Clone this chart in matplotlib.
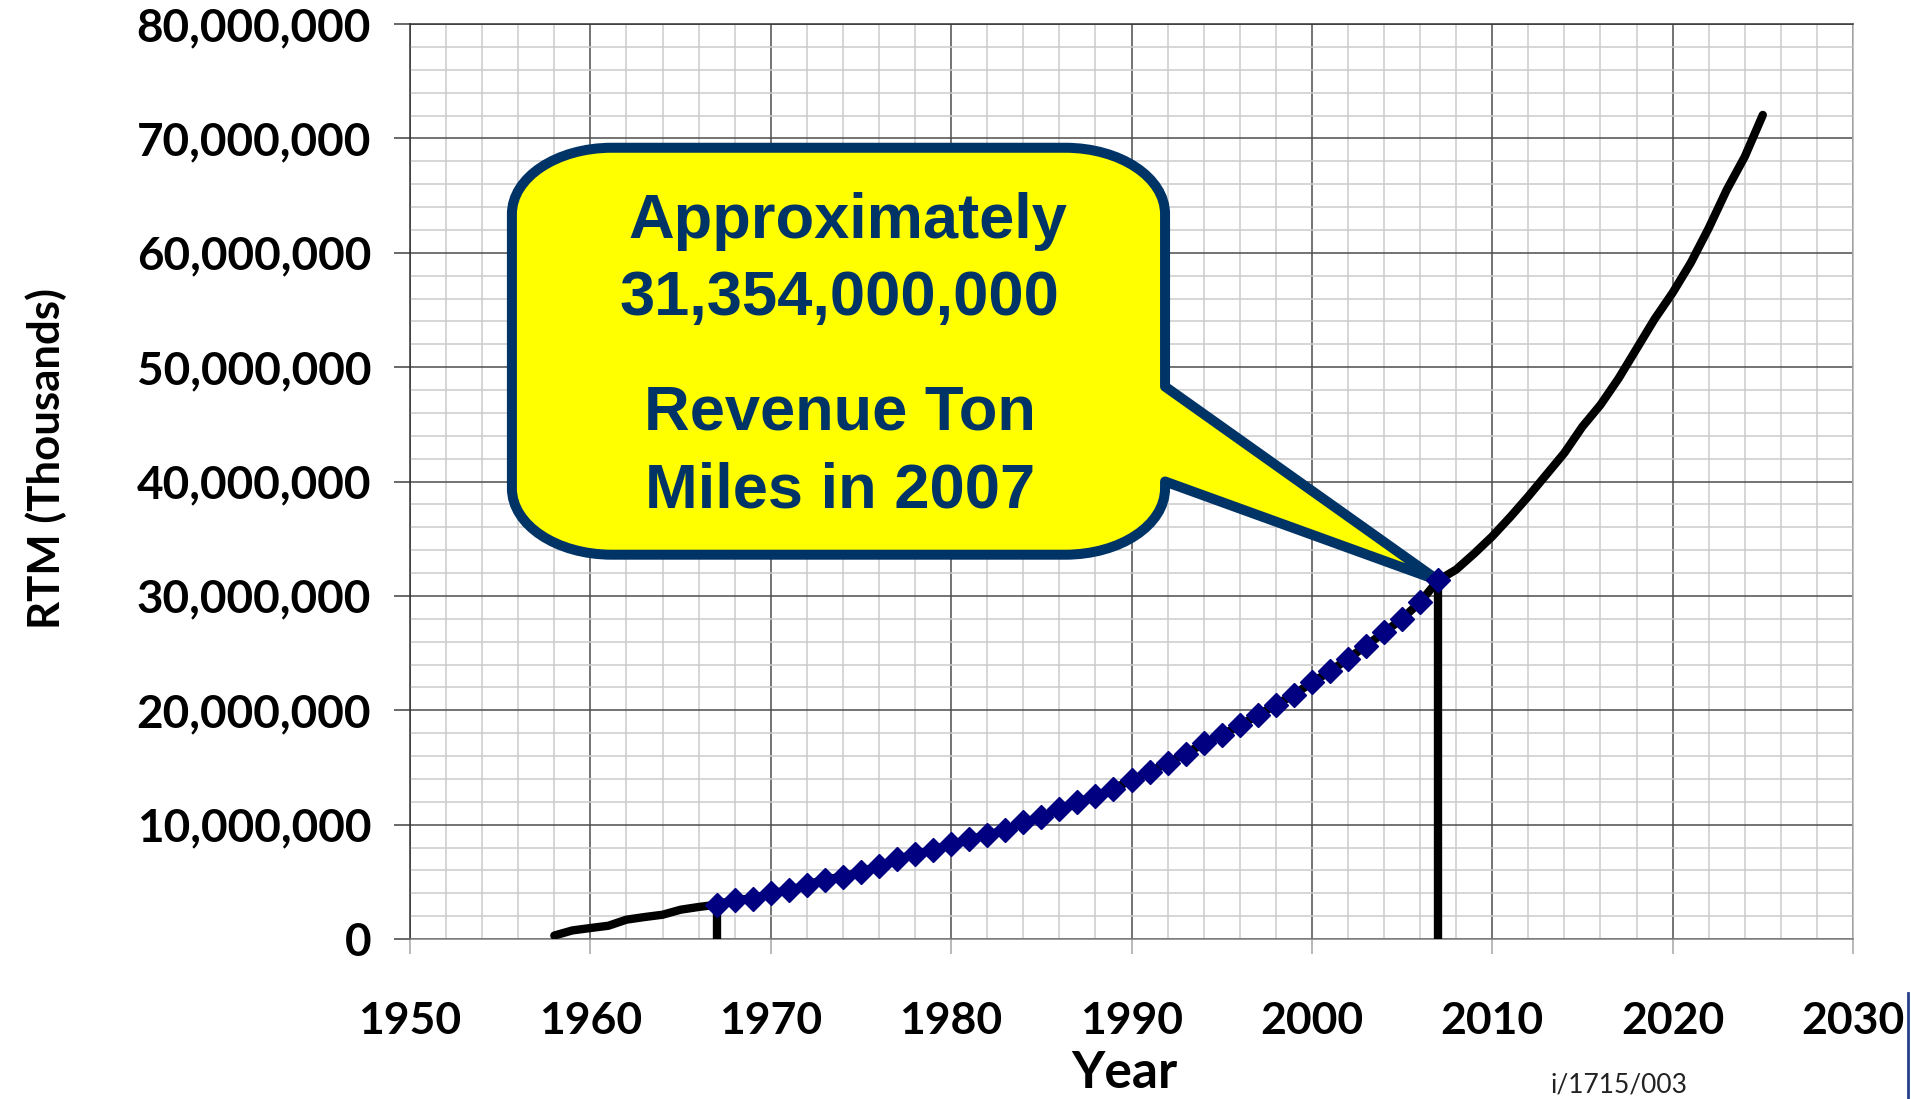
"""
plot.py - revenue ton miles (RTM) history and projection, 1958-2025.

Black line: full series; navy diamonds: recorded years 1967-2007.
Callout points at the 2007 value.
"""

import matplotlib
matplotlib.use("Agg")
import matplotlib.pyplot as plt
from matplotlib.lines import Line2D
from matplotlib.patches import PathPatch
from matplotlib.path import Path
from matplotlib.ticker import FuncFormatter, MultipleLocator

# ---------------------------------------------------------------------------
# Data (RTM in thousands)
# ---------------------------------------------------------------------------

years = list(range(1958, 2026))
rtm = [
    300_000, 750_000, 960_000, 1_160_000, 1_690_000, 1_920_000, 2_120_000,
    2_560_000, 2_800_000, 3_000_000,                                  # 1958-1967
    3_440_000, 3_520_000, 4_000_000, 4_250_000, 4_750_000, 5_200_000,
    5_450_000, 5_900_000, 6_350_000, 7_000_000,                       # 1968-1977
    7_400_000, 7_800_000, 8_300_000, 8_700_000, 9_100_000, 9_550_000,
    10_200_000, 10_660_000, 11_360_000, 12_000_000,                   # 1978-1987
    12_470_000, 13_140_000, 13_900_000, 14_600_000, 15_400_000, 16_200_000,
    17_100_000, 17_800_000, 18_700_000, 19_550_000,                   # 1988-1997
    20_480_000, 21_360_000, 22_430_000, 23_400_000, 24_500_000, 25_640_000,
    26_800_000, 28_000_000, 29_460_000, 31_354_000,                   # 1998-2007
    32_300_000, 33_700_000, 35_200_000, 36_900_000, 38_700_000, 40_600_000,
    42_500_000, 44_800_000, 46_700_000, 49_000_000,                   # 2008-2017
    51_600_000, 54_200_000, 56_500_000, 59_100_000, 62_150_000, 65_500_000,
    68_400_000, 72_050_000,                                           # 2018-2025
]

recorded_start = 1967
recorded_end = 2007

callout_lines = ["Approximately", "31,354,000,000", "Revenue Ton", "Miles in 2007"]

x_label = "Year"
y_label = "RTM (Thousands)"
doc_ref = "i/1715/003"

# ---------------------------------------------------------------------------
# Styling
# ---------------------------------------------------------------------------

NAVY = "#000080"
CALLOUT_EDGE = "#003366"
CALLOUT_FILL = "#ffff00"
W, H = 1911, 1099

plt.rcParams["font.family"] = ["Lato", "DejaVu Sans"]
plt.rcParams["font.weight"] = "bold"
plt.rcParams["axes.labelweight"] = "bold"


def _callout_path(left, right, top, bottom, rx, ry, tail_hi, tail_lo, tip):
    """Rounded box with a wedge tail on its right edge, in data units."""
    k = 0.5523
    tx, ty = tip
    verts = [
        (left + rx, top),
        (right - rx, top),
        (right - rx + k * rx, top), (right, top - ry + k * ry), (right, top - ry),
        (right, tail_hi),
        (tx, ty),
        (right, tail_lo),
        (right, bottom + ry),
        (right, bottom + ry - k * ry), (right - rx + k * rx, bottom), (right - rx, bottom),
        (left + rx, bottom),
        (left + rx - k * rx, bottom), (left, bottom + ry - k * ry), (left, bottom + ry),
        (left, top - ry),
        (left, top - ry + k * ry), (left + rx - k * rx, top), (left + rx, top),
        (left + rx, top),
    ]
    codes = [
        Path.MOVETO,
        Path.LINETO,
        Path.CURVE4, Path.CURVE4, Path.CURVE4,
        Path.LINETO,
        Path.LINETO,
        Path.LINETO,
        Path.LINETO,
        Path.CURVE4, Path.CURVE4, Path.CURVE4,
        Path.LINETO,
        Path.CURVE4, Path.CURVE4, Path.CURVE4,
        Path.LINETO,
        Path.CURVE4, Path.CURVE4, Path.CURVE4,
        Path.CLOSEPOLY,
    ]
    return Path(verts, codes)


def main() -> None:
    fig = plt.figure(figsize=(W / 100, H / 100), dpi=100)
    ax = fig.add_axes([410 / W, 160 / H, 1443 / W, 915 / H])

    ax.set_xlim(1950, 2030)
    ax.set_ylim(0, 80_000_000)

    # grid: 10 yr / 10M majors, 2 yr / 2M minors
    ax.xaxis.set_major_locator(MultipleLocator(10))
    ax.xaxis.set_minor_locator(MultipleLocator(2))
    ax.yaxis.set_major_locator(MultipleLocator(10_000_000))
    ax.yaxis.set_minor_locator(MultipleLocator(2_000_000))
    ax.yaxis.set_major_formatter(FuncFormatter(lambda v, _: f"{v:,.0f}"))
    ax.set_axisbelow(True)
    ax.grid(which="minor", color="#cccccc", lw=1.1)
    ax.grid(which="major", color="#4d4d4d", lw=1.1)

    ax.tick_params(which="minor", length=0)
    ax.tick_params(axis="y", which="major", length=11.5, width=1.1,
                   color="#404040", pad=16.5, labelsize=33)
    ax.tick_params(axis="x", which="major", length=11, width=1.1,
                   color="#a6a6a6", pad=34, labelsize=32)

    ax.spines["left"].set_color("#333333")
    ax.spines["top"].set_color("#333333")
    ax.spines["bottom"].set_color("#808080")
    ax.spines["right"].set_color("#b0b0b0")
    for sp in ax.spines.values():
        sp.set_linewidth(1.1)

    ax.set_ylabel(y_label, fontsize=31.5, fontweight="bold")
    ax.yaxis.label.set_va("center")
    ax.yaxis.set_label_coords(-0.252, 0.5246)
    ax.set_xlabel(x_label, fontsize=37, fontweight="bold")
    ax.xaxis.label.set_va("baseline")
    ax.xaxis.set_label_coords(0.4948, (939 - 1088) / 915)

    # series
    i0 = years.index(recorded_start)
    i1 = years.index(recorded_end) + 1
    rec_years = years[i0:i1]
    rec_vals = rtm[i0:i1]

    ax.plot(years, rtm, color="black", lw=6, solid_capstyle="round",
            solid_joinstyle="round", zorder=4)
    for yr in (recorded_start, recorded_end):
        v = rtm[years.index(yr)]
        ax.plot([yr, yr], [0, v], color="black", lw=6,
                solid_capstyle="round", zorder=4)
    ax.plot(rec_years, rec_vals, ls="none", marker="D", ms=12,
            mfc=NAVY, mec=NAVY, mew=1.0, zorder=5)

    # callout pointing at the 2007 value
    tip = (recorded_end, rtm[years.index(recorded_end)])
    path = _callout_path(left=1955.65, right=1991.86, top=69_180_000,
                         bottom=33_600_000, rx=5.54, ry=5_800_000,
                         tail_hi=48_300_000, tail_lo=40_000_000, tip=tip)
    ax.add_patch(PathPatch(path, facecolor=CALLOUT_FILL, edgecolor=CALLOUT_EDGE,
                           lw=7.2, joinstyle="round", zorder=3))

    text_pos = [(848, 238), (839, 315), (840, 430), (840, 507)]
    for line, (px, py) in zip(callout_lines, text_pos):
        fig.text(px / W, 1 - py / H, line, ha="center", va="baseline",
                 fontsize=45.5, color=CALLOUT_EDGE, weight="bold",
                 family=["Liberation Sans", "DejaVu Sans"], zorder=6)

    fig.text(1550 / W, 1 - 1092 / H, doc_ref, ha="left", va="baseline",
             fontsize=19, weight="normal", color="#222222")
    fig.add_artist(Line2D([1908 / W, 1908 / W], [0, 1 - 993 / H],
                          color="#26408b", lw=2))

    fig.savefig("out.png", dpi=100)


if __name__ == "__main__":
    main()
